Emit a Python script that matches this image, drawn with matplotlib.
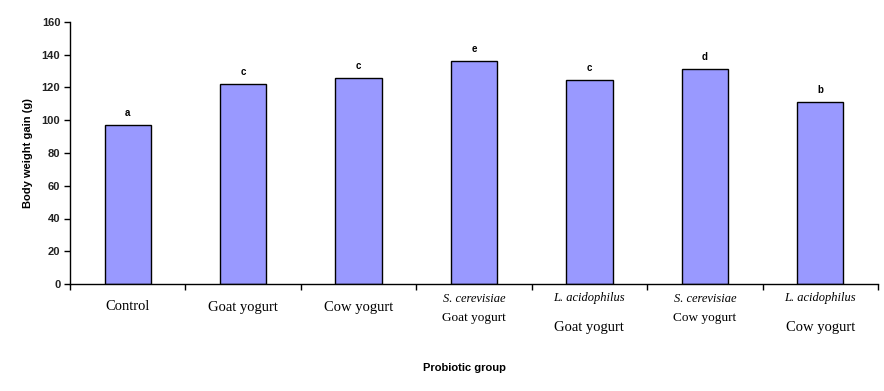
import numpy as np
import matplotlib.pyplot as plt
from matplotlib.transforms import blended_transform_factory

groups = ['Control', 'Goat yogurt', 'Cow yogurt', 'S. cerevisiae\nGoat yogurt',
          'L. acidophilus\nGoat yogurt', 'S. cerevisiae\nCow yogurt', 'L. acidophilus\nCow yogurt']
species = ['', '', '', 'S. cerevisiae', 'L. acidophilus', 'S. cerevisiae', 'L. acidophilus']
product = ['Control', 'Goat yogurt', 'Cow yogurt', 'Goat yogurt', 'Goat yogurt', 'Cow yogurt', 'Cow yogurt']
gain = [97.2, 122.2, 125.6, 136.0, 124.8, 131.3, 111.2]
letters = ['a', 'c', 'c', 'e', 'c', 'd', 'b']

fig = plt.figure(figsize=(8.84, 3.91), dpi=100)
ax = fig.add_axes([70 / 884, 1 - 284 / 391, 808 / 884, 262 / 391])

x = np.arange(len(gain))
ax.bar(x, gain, width=0.4, color='#9999ff', edgecolor='black', linewidth=1.0, zorder=2)

for xi, v, l in zip(x, gain, letters):
    ax.annotate(l, (xi, v), xytext=(0, 5), textcoords='offset points', ha='center', va='bottom',
                fontsize=7, fontweight='bold', family='Liberation Sans')

ax.set_xlim(-0.5, len(gain) - 0.5)
ax.set_ylim(0, 160)
ax.set_yticks(np.arange(0, 161, 20))
ax.set_xticks(np.arange(-0.5, len(gain), 1.0))
ax.set_xticklabels([])
ax.tick_params(axis='x', direction='out', length=4, width=1)
ax.tick_params(axis='y', direction='out', length=4, width=1, labelsize=8, pad=3)
for lab in ax.get_yticklabels():
    lab.set_family('Liberation Sans')
    lab.set_fontweight('bold')
    lab.set_color('#222222')
for s in ['top', 'right']:
    ax.spines[s].set_visible(False)
for s in ['left', 'bottom']:
    ax.spines[s].set_linewidth(1.0)

tr = blended_transform_factory(ax.transData, fig.transFigure)
for i, (sp, pr) in enumerate(zip(species, product)):
    if sp == '':
        fig.text(0, 0, '')
        ax.text(i, 1 - 307 / 391, pr, transform=tr, ha='center', va='center',
                fontsize=10.5, family='Liberation Serif')
    elif sp.startswith('S.'):
        ax.text(i, 1 - 299 / 391, sp, transform=tr, ha='center', va='center',
                fontsize=9, style='italic', family='Liberation Serif')
        ax.text(i, 1 - 318 / 391, pr, transform=tr, ha='center', va='center',
                fontsize=9.5, family='Liberation Serif')
    else:
        ax.text(i, 1 - 298 / 391, sp, transform=tr, ha='center', va='center',
                fontsize=9, style='italic', family='Liberation Serif')
        ax.text(i, 1 - 328 / 391, pr, transform=tr, ha='center', va='center',
                fontsize=10.5, family='Liberation Serif')

fig.text(464 / 884, 1 - 368 / 391, 'Probiotic group', ha='center', va='center',
         fontsize=8, fontweight='bold', family='Liberation Sans')
ax.set_ylabel('Body weight gain (g)', fontsize=8, fontweight='bold', family='Liberation Sans', labelpad=6)

fig.savefig('out.png', dpi=100)
